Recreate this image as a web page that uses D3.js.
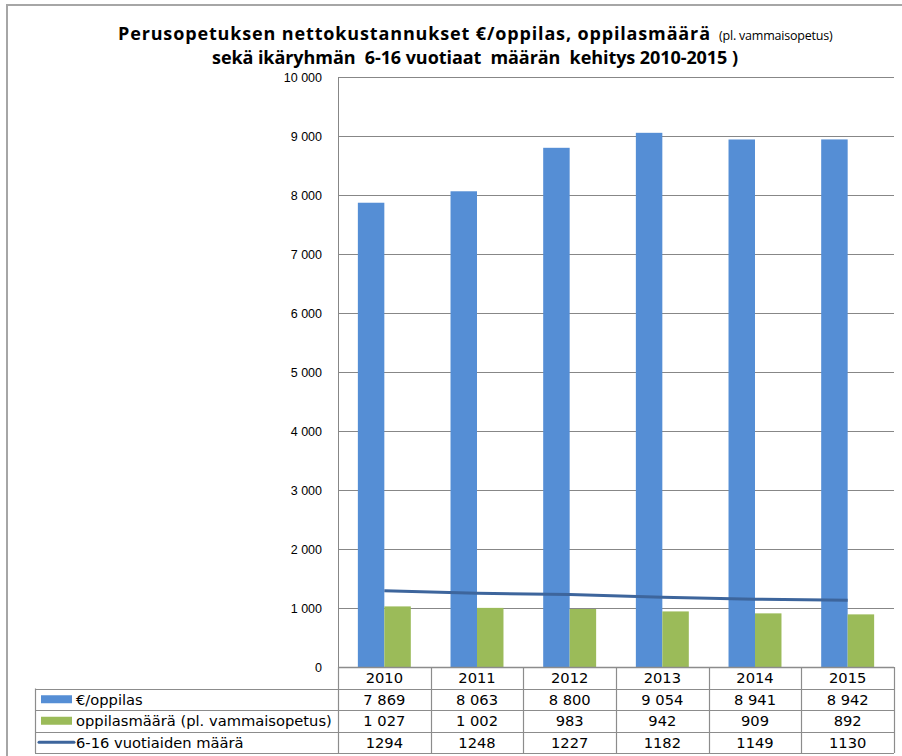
<!DOCTYPE html>
<html>
<head>
<meta charset="utf-8">
<script src="https://cdn.jsdelivr.net/npm/d3@7"></script>
<style>
  body { margin: 0; background: #fff; }
  svg text { white-space: pre; }
</style>
</head>
<body>
<svg width="902" height="756"></svg>
<script>
var years = ["2010", "2011", "2012", "2013", "2014", "2015"];
var eurPerPupil = [7869, 8063, 8800, 9054, 8941, 8942];
var pupils = [1027, 1002, 983, 942, 909, 892];
var ageGroup = [1294, 1248, 1227, 1182, 1149, 1130];
var yTicks = [0, 1000, 2000, 3000, 4000, 5000, 6000, 7000, 8000, 9000, 10000];
var seriesNames = ["€/oppilas", "oppilasmäärä (pl. vammaisopetus)", "6-16 vuotiaiden määrä"];

var svg = d3.select("svg");

var plotLeft = 338, plotRight = 894, plotTop = 77, plotBottom = 667;
var rowH = 21.5;
var tableLeft = 35;

var fr = d3.formatLocale({decimal: ",", thousands: "\u00a0", grouping: [3], currency: ["", ""]});
var fmt = fr.format(",d");

var blue = "#558ed5", green = "#9bbb59", lineCol = "#3d659c", gridCol = "#878787";

// outer frame
svg.append("path")
  .attr("d", "M7,757 L7,5 L903,5")
  .attr("fill", "none")
  .attr("stroke", "#a6a6a6")
  .attr("stroke-width", 2);

var x = d3.scaleBand().domain(years).range([plotLeft, plotRight]);
var x1 = d3.scaleBand().domain(["eur", "pupils"]).range([0, x.bandwidth()]).paddingOuter(0.75);
var y = d3.scaleLinear().domain([0, 10000]).range([plotBottom, plotTop]);

// gridlines
svg.append("g")
  .selectAll("line")
  .data(yTicks.filter(function(d) { return d > 0; }))
  .enter().append("line")
  .attr("x1", plotLeft).attr("x2", plotRight)
  .attr("y1", function(d) { return Math.round(y(d)) + 0.5; })
  .attr("y2", function(d) { return Math.round(y(d)) + 0.5; })
  .attr("stroke", gridCol);

// y axis labels
var yAxis = d3.axisLeft(y).tickValues(yTicks).tickSize(0).tickPadding(16)
  .tickFormat(function(d) { return fmt(d); });
var gy = svg.append("g").attr("transform", "translate(" + plotLeft + ",0)").call(yAxis);
gy.select(".domain").remove();
gy.selectAll("text")
  .attr("font-family", "Liberation Sans, Arial, sans-serif")
  .attr("font-size", 12.5)
  .attr("fill", "#000");

// bars
var bars = svg.append("g");
bars.selectAll(".eur")
  .data(years)
  .enter().append("rect")
  .attr("x", function(d) { return x(d) + x1("eur"); })
  .attr("y", function(d, i) { return y(eurPerPupil[i]); })
  .attr("width", x1.bandwidth())
  .attr("height", function(d, i) { return plotBottom - y(eurPerPupil[i]); })
  .attr("fill", blue);
bars.selectAll(".pup")
  .data(years)
  .enter().append("rect")
  .attr("x", function(d) { return x(d) + x1("pupils"); })
  .attr("y", function(d, i) { return y(pupils[i]); })
  .attr("width", x1.bandwidth())
  .attr("height", function(d, i) { return plotBottom - y(pupils[i]); })
  .attr("fill", green);

// line
var line = d3.line()
  .x(function(d, i) { return x(years[i]) + x.bandwidth() / 2; })
  .y(function(d) { return y(d); });
svg.append("path")
  .datum(ageGroup)
  .attr("d", line)
  .attr("fill", "none")
  .attr("stroke", lineCol)
  .attr("stroke-width", 3);

// y axis line
svg.append("line")
  .attr("x1", plotLeft + 0.5).attr("x2", plotLeft + 0.5)
  .attr("y1", plotTop).attr("y2", plotBottom)
  .attr("stroke", gridCol);

// data table
var tbl = svg.append("g");
var tableBottom = plotBottom + rowH * 4;
var tStroke = "#8c8c8c";

[0, 1, 2, 3, 4].forEach(function(r) {
  var yy = Math.round(plotBottom + r * rowH) + 0.5;
  tbl.append("line")
    .attr("x1", r === 0 ? plotLeft : tableLeft).attr("x2", plotRight)
    .attr("y1", yy).attr("y2", yy)
    .attr("stroke", tStroke).attr("stroke-width", r === 0 ? 1.5 : 1.2);
});
tbl.append("line")
  .attr("x1", tableLeft + 0.5).attr("x2", tableLeft + 0.5)
  .attr("y1", plotBottom + rowH).attr("y2", tableBottom)
  .attr("stroke", tStroke).attr("stroke-width", 1.2);
years.concat(["end"]).forEach(function(d, i) {
  var xx = Math.round(plotLeft + i * x.step()) + 0.5;
  tbl.append("line")
    .attr("x1", xx).attr("x2", xx)
    .attr("y1", plotBottom).attr("y2", tableBottom)
    .attr("stroke", tStroke).attr("stroke-width", 1.2);
});

var tfont = "DejaVu Sans, Verdana, sans-serif";
var tsize = 14.7;
var rows = [
  years,
  eurPerPupil.map(function(v) { return fmt(v); }),
  pupils.map(function(v) { return fmt(v); }),
  ageGroup.map(function(v) { return String(v); })
];
rows.forEach(function(vals, r) {
  tbl.selectAll(".r" + r)
    .data(vals)
    .enter().append("text")
    .attr("x", function(d, i) { return x(years[i]) + x.bandwidth() / 2; })
    .attr("y", plotBottom + r * rowH + rowH / 2 + 5.5)
    .attr("text-anchor", "middle")
    .attr("font-family", tfont)
    .attr("font-size", tsize)
    .text(function(d) { return d; });
});

seriesNames.forEach(function(name, i) {
  var cy = plotBottom + (i + 1) * rowH + rowH / 2;
  if (i < 2) {
    tbl.append("rect")
      .attr("x", 41).attr("y", cy - 4)
      .attr("width", 31).attr("height", 8)
      .attr("fill", i === 0 ? blue : green);
  } else {
    tbl.append("line")
      .attr("x1", 39).attr("x2", 74)
      .attr("y1", cy).attr("y2", cy)
      .attr("stroke", lineCol).attr("stroke-width", 3)
      .attr("stroke-linecap", "round");
  }
  tbl.append("text")
    .attr("x", 76)
    .attr("y", cy + 5.5)
    .attr("font-family", tfont)
    .attr("font-size", tsize)
    .text(name);
});

// title
svg.append("text")
  .attr("x", 118)
  .attr("y", 40)
  .attr("font-family", "Open Sans, sans-serif")
  .attr("font-weight", "bold")
  .attr("font-size", 18)
  .attr("textLength", 592)
  .attr("lengthAdjust", "spacing")
  .text("Perusopetuksen nettokustannukset €/oppilas, oppilasmäärä");
svg.append("text")
  .attr("x", 719)
  .attr("y", 40)
  .attr("font-family", "Open Sans, sans-serif")
  .attr("font-size", 12.5)
  .attr("letter-spacing", -0.2)
  .text("(pl. vammaisopetus)");
svg.append("text")
  .attr("x", 212)
  .attr("y", 64)
  .attr("font-family", "Open Sans, sans-serif")
  .attr("font-weight", "bold")
  .attr("font-size", 18)
  .attr("textLength", 526)
  .attr("lengthAdjust", "spacing")
  .text("sekä ikäryhmän  6-16 vuotiaat  määrän  kehitys 2010-2015 )");
</script>
</body>
</html>
